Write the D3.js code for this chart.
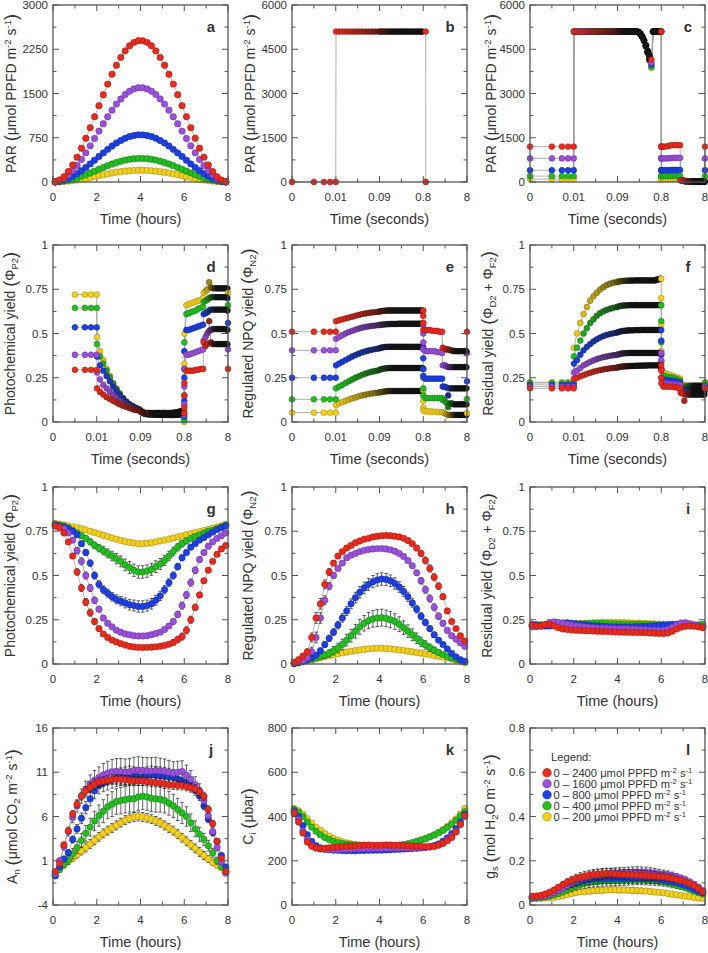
<!DOCTYPE html>
<html><head><meta charset="utf-8">
<script src="https://cdn.jsdelivr.net/npm/d3@7"></script>
<style>body{margin:0;background:#fff}svg{display:block}text{font-family:"Liberation Sans",Arial,Helvetica,sans-serif;fill:#333}</style>
</head><body><svg id="c" width="708" height="953"></svg>
<script>
// ---------------- DATA ----------------
const hours=[0.1,0.3,0.5,0.7,0.9,1.1,1.3,1.5,1.7,1.9,2.1,2.3,2.5,2.7,2.9,3.1,3.3,3.5,3.7,3.9,4.1,4.3,4.5,4.7,4.9,5.1,5.3,5.5,5.7,5.9,6.1,6.3,6.5,6.7,6.9,7.1,7.3,7.5,7.7,7.9];
const hourTicks=[0,2,4,6,8], hourMinor=[1,3,5,7];
const secTicks=[0,0.01,0.09,0.8,8], secLabels=["0","0.01","0.09","0.8","8"];
const legendLevels=["2400","1600","800","400","200"];

// panel a: PAR (hours)
const parRed=[4,33,91,177,288,421,573,741,920,1106,1294,1480,1659,1827,1979,2112,2223,2309,2367,2396,2396,2367,2309,2223,2112,1979,1827,1659,1480,1294,1106,920,741,573,421,288,177,91,33,4];
const parPurple=[2,22,61,118,192,280,382,494,613,737,863,987,1106,1218,1320,1408,1482,1539,1578,1598,1598,1578,1539,1482,1408,1320,1218,1106,987,863,737,613,494,382,280,192,118,61,22,2];
const parBlue=[1,11,30,59,96,140,191,247,307,369,431,493,553,609,660,704,741,770,789,799,799,789,770,741,704,660,609,553,493,431,369,307,247,191,140,96,59,30,11,1];
const parGreen=[1,6,15,29,48,70,96,123,153,184,216,247,277,305,330,352,371,385,394,399,399,394,385,371,352,330,305,277,247,216,184,153,123,96,70,48,29,15,6,1];
const parYellow=[0,3,8,15,24,35,48,62,77,92,108,123,138,152,165,176,185,192,197,200,200,197,192,185,176,165,152,138,123,108,92,77,62,48,35,24,15,8,3,0];

// panel g: photochemical yield (hours)
const phiPRed=[0.78,0.77,0.74,0.69,0.61,0.52,0.43,0.35,0.29,0.24,0.2,0.17,0.15,0.135,0.125,0.115,0.107,0.1,0.096,0.094,0.093,0.094,0.095,0.097,0.1,0.105,0.112,0.122,0.138,0.155,0.19,0.25,0.32,0.39,0.47,0.53,0.58,0.62,0.65,0.67];
const phiPPurple=[0.78,0.775,0.765,0.74,0.7,0.64,0.58,0.5,0.43,0.36,0.31,0.26,0.23,0.21,0.19,0.18,0.17,0.165,0.16,0.158,0.158,0.16,0.165,0.172,0.18,0.195,0.215,0.24,0.28,0.33,0.39,0.46,0.53,0.59,0.63,0.665,0.69,0.71,0.725,0.74];
const phiPBlue=[0.785,0.78,0.775,0.765,0.75,0.73,0.68,0.63,0.57,0.5,0.45,0.42,0.4,0.38,0.365,0.355,0.345,0.335,0.33,0.325,0.325,0.33,0.34,0.36,0.385,0.42,0.46,0.5,0.55,0.6,0.63,0.66,0.68,0.7,0.715,0.73,0.745,0.76,0.77,0.78];
const phiPGreen=[0.79,0.785,0.78,0.77,0.755,0.74,0.725,0.71,0.69,0.67,0.655,0.64,0.625,0.61,0.595,0.58,0.56,0.545,0.53,0.52,0.52,0.525,0.535,0.55,0.565,0.585,0.61,0.635,0.66,0.68,0.695,0.71,0.72,0.73,0.74,0.75,0.755,0.765,0.775,0.785];
const phiPYellow=[0.795,0.79,0.785,0.78,0.775,0.77,0.765,0.758,0.75,0.742,0.735,0.727,0.72,0.712,0.705,0.698,0.692,0.687,0.683,0.68,0.68,0.682,0.685,0.69,0.695,0.7,0.706,0.712,0.718,0.724,0.73,0.736,0.742,0.748,0.754,0.76,0.767,0.774,0.781,0.79];
const errGGreen=[0.004,0.005,0.006,0.007,0.009,0.011,0.013,0.015,0.017,0.019,0.021,0.023,0.025,0.027,0.029,0.031,0.033,0.034,0.035,0.035,0.035,0.035,0.034,0.033,0.031,0.029,0.027,0.025,0.022,0.019,0.016,0.014,0.012,0.01,0.009,0.008,0.007,0.006,0.005,0.004];
const errGBlue=[0.004,0.005,0.006,0.008,0.01,0.012,0.014,0.016,0.018,0.02,0.021,0.022,0.023,0.024,0.025,0.026,0.028,0.03,0.031,0.032,0.032,0.031,0.03,0.028,0.026,0.024,0.022,0.02,0.018,0.016,0.014,0.012,0.01,0.009,0.008,0.007,0.006,0.005,0.005,0.004];
const errGLow=[0.004,0.006,0.008,0.01,0.014,0.018,0.02,0.02,0.02,0.018,0.015,0.012,0.01,0.008,0.007,0.007,0.006,0.006,0.006,0.006,0.006,0.006,0.006,0.007,0.008,0.01,0.012,0.015,0.018,0.02,0.02,0.02,0.018,0.015,0.012,0.01,0.008,0.007,0.006,0.005];

// panel h: regulated NPQ yield (hours)
const phiNRed=[0.01,0.025,0.045,0.07,0.15,0.26,0.34,0.45,0.52,0.57,0.61,0.635,0.655,0.67,0.685,0.695,0.705,0.71,0.718,0.722,0.725,0.726,0.725,0.722,0.718,0.71,0.698,0.68,0.655,0.625,0.585,0.54,0.49,0.44,0.38,0.3,0.24,0.2,0.16,0.13];
const phiNPurple=[0.005,0.012,0.02,0.035,0.07,0.15,0.26,0.36,0.44,0.5,0.54,0.57,0.6,0.615,0.625,0.635,0.642,0.647,0.65,0.652,0.652,0.65,0.645,0.637,0.625,0.608,0.585,0.555,0.515,0.47,0.42,0.37,0.32,0.27,0.23,0.19,0.16,0.14,0.12,0.1];
const phiNBlue=[0.003,0.008,0.015,0.025,0.035,0.05,0.075,0.11,0.145,0.18,0.22,0.26,0.3,0.34,0.375,0.405,0.43,0.45,0.465,0.475,0.48,0.478,0.47,0.455,0.435,0.41,0.38,0.345,0.31,0.27,0.235,0.2,0.165,0.135,0.11,0.085,0.06,0.04,0.025,0.015];
const phiNGreen=[0.003,0.008,0.014,0.02,0.027,0.034,0.042,0.05,0.06,0.075,0.09,0.11,0.135,0.16,0.185,0.21,0.23,0.245,0.255,0.26,0.262,0.258,0.25,0.24,0.225,0.205,0.185,0.165,0.145,0.125,0.108,0.092,0.078,0.065,0.053,0.043,0.034,0.026,0.018,0.01];
const phiNYellow=[0.002,0.006,0.012,0.018,0.024,0.03,0.036,0.042,0.048,0.053,0.058,0.063,0.068,0.072,0.076,0.08,0.083,0.086,0.088,0.089,0.089,0.088,0.086,0.083,0.08,0.077,0.073,0.069,0.065,0.061,0.057,0.053,0.048,0.044,0.039,0.034,0.028,0.022,0.015,0.008];
const errHHi=[0.003,0.005,0.007,0.009,0.011,0.013,0.015,0.018,0.021,0.024,0.027,0.03,0.033,0.036,0.039,0.042,0.044,0.046,0.047,0.048,0.048,0.047,0.046,0.044,0.042,0.039,0.036,0.033,0.03,0.027,0.024,0.021,0.018,0.015,0.012,0.01,0.008,0.006,0.005,0.004];
const errHMid=[0.003,0.004,0.006,0.008,0.01,0.012,0.014,0.016,0.018,0.02,0.022,0.024,0.026,0.028,0.03,0.032,0.033,0.034,0.035,0.035,0.035,0.034,0.033,0.032,0.03,0.028,0.026,0.024,0.022,0.02,0.018,0.016,0.014,0.012,0.01,0.008,0.007,0.006,0.005,0.004];
const errHLow=[0.003,0.005,0.01,0.015,0.025,0.03,0.03,0.025,0.02,0.015,0.012,0.01,0.01,0.009,0.008,0.008,0.008,0.008,0.008,0.008,0.008,0.008,0.008,0.008,0.008,0.009,0.01,0.012,0.015,0.018,0.02,0.02,0.02,0.018,0.016,0.014,0.012,0.01,0.008,0.006];

// panel i: residual yield (hours)
const phiRRed=[0.22,0.215,0.215,0.222,0.225,0.215,0.205,0.198,0.195,0.192,0.19,0.189,0.188,0.187,0.186,0.185,0.184,0.183,0.182,0.181,0.18,0.18,0.179,0.178,0.178,0.177,0.176,0.175,0.174,0.173,0.172,0.175,0.185,0.198,0.208,0.213,0.215,0.214,0.21,0.205];
const phiRPurple=[0.21,0.212,0.215,0.222,0.235,0.238,0.235,0.23,0.225,0.22,0.216,0.213,0.21,0.208,0.206,0.204,0.203,0.202,0.201,0.2,0.2,0.199,0.198,0.197,0.196,0.195,0.194,0.193,0.192,0.191,0.192,0.197,0.208,0.222,0.232,0.234,0.228,0.222,0.216,0.21];
const phiRBlue=[0.22,0.218,0.216,0.215,0.215,0.218,0.225,0.232,0.233,0.231,0.228,0.225,0.222,0.219,0.217,0.215,0.213,0.212,0.211,0.21,0.21,0.21,0.21,0.21,0.211,0.212,0.213,0.214,0.216,0.218,0.22,0.222,0.224,0.225,0.223,0.22,0.218,0.215,0.213,0.21];
const phiRGreen=[0.225,0.224,0.222,0.22,0.22,0.221,0.222,0.223,0.224,0.225,0.226,0.227,0.228,0.229,0.23,0.23,0.23,0.229,0.228,0.227,0.226,0.226,0.225,0.225,0.225,0.225,0.224,0.223,0.222,0.221,0.22,0.219,0.218,0.217,0.216,0.216,0.217,0.219,0.222,0.225];
const phiRYellow=[0.21,0.212,0.214,0.216,0.218,0.22,0.221,0.222,0.223,0.224,0.225,0.227,0.229,0.231,0.233,0.234,0.235,0.235,0.235,0.235,0.235,0.234,0.233,0.232,0.231,0.23,0.229,0.228,0.227,0.226,0.225,0.224,0.223,0.222,0.221,0.22,0.219,0.218,0.216,0.215];

// panel j: net assimilation (hours)
const anRed=[-0.2,0.7,2.8,4.4,6.3,7.4,8.3,8.9,9.3,9.7,9.9,10.0,10.1,10.2,10.2,10.2,10.15,10.1,10.05,10.0,10.0,9.95,9.9,9.85,9.8,9.7,9.6,9.55,9.5,9.5,9.4,9.25,9.1,8.8,8.3,6.8,5.2,3.2,1.3,-0.2];
const anPurple=[-0.5,1.0,2.6,4.3,5.9,7.2,8.3,9.1,9.7,10.1,10.4,10.7,10.9,11.05,11.1,11.05,11.0,11.05,11.2,11.25,11.2,11.15,11.15,11.2,11.15,11.1,11.0,10.9,11.0,11.1,10.7,10.2,9.6,8.9,7.8,6.1,4.3,2.5,0.9,-0.4];
const anBlue=[-0.7,0.3,1.2,1.9,3.4,4.6,5.8,7.0,8.0,8.9,9.5,9.8,10.0,10.2,10.4,10.5,10.6,10.7,10.6,10.5,10.5,10.6,10.7,10.65,10.6,10.55,10.5,10.4,10.25,10.05,9.85,9.6,9.0,8.3,7.2,5.7,4.2,3.2,1.6,0.3];
const anGreen=[-0.7,0.0,0.6,1.1,1.8,2.5,3.3,4.1,4.8,5.5,6.1,6.6,7.1,7.4,7.7,7.8,7.9,8.0,8.0,8.2,8.3,8.2,8.05,8.0,7.95,7.8,7.5,7.2,6.8,6.4,6.0,5.3,4.6,4.0,3.4,2.7,1.9,1.0,0.3,-0.3];
const anYellow=[-0.3,0.1,0.5,0.9,1.3,1.7,2.1,2.5,2.9,3.3,3.7,4.1,4.4,4.7,5.0,5.3,5.6,5.8,5.95,6.0,5.95,5.85,5.7,5.5,5.3,5.0,4.7,4.4,4.0,3.6,3.2,2.8,2.4,2.0,1.6,1.2,0.8,0.5,0.2,-0.1];
const errJHi=[0.2,0.3,0.4,0.5,0.6,0.7,0.8,0.9,1.0,1.1,1.2,1.3,1.35,1.4,1.45,1.5,1.5,1.5,1.5,1.5,1.5,1.5,1.5,1.5,1.45,1.4,1.35,1.3,1.25,1.2,1.1,1.0,0.9,0.8,0.7,0.6,0.5,0.4,0.3,0.2];
const errJMid=[0.2,0.25,0.3,0.35,0.4,0.5,0.6,0.7,0.8,0.9,0.95,1.0,1.0,1.0,1.0,1.0,1.0,1.0,1.0,1.0,1.0,1.0,1.0,1.0,1.0,1.0,0.95,0.9,0.85,0.8,0.75,0.7,0.6,0.5,0.45,0.4,0.35,0.3,0.25,0.2];
const errJLow=[0.15,0.2,0.25,0.3,0.35,0.4,0.45,0.5,0.5,0.5,0.5,0.5,0.5,0.5,0.5,0.5,0.5,0.5,0.5,0.5,0.5,0.5,0.5,0.5,0.5,0.5,0.5,0.5,0.5,0.5,0.5,0.5,0.5,0.5,0.45,0.4,0.35,0.3,0.25,0.2];

// panel k: Ci (hours)
const ciRed=[415,375,325,285,265,258,256,257,259,261,263,265,266,267,268,269,270,271,270,270,270,271,271,270,270,269,268,267,266,265,264,264,265,270,278,290,305,330,365,405];
const ciPurple=[420,385,335,295,270,258,253,251,250,250,251,252,252,253,254,254,255,255,255,256,256,256,257,257,258,258,258,259,259,260,261,263,266,272,282,295,312,335,365,400];
const ciBlue=[425,400,360,318,288,268,258,253,250,248,247,246,245,245,245,246,246,247,247,248,248,249,250,251,252,253,254,255,256,258,260,263,268,276,288,303,322,345,375,410];
const ciGreen=[432,420,400,375,352,333,318,305,296,288,282,278,275,272,270,268,267,266,265,265,265,266,267,268,270,273,277,282,288,294,300,308,316,326,337,350,365,383,403,422];
const ciYellow=[436,426,410,390,370,352,337,323,311,301,293,286,281,277,274,271,269,267,265,264,264,264,265,266,268,271,275,280,286,293,300,309,318,329,341,355,371,389,410,436];

// panel l: gs (hours)
const gsRed=[0.04,0.041,0.044,0.05,0.058,0.068,0.08,0.092,0.103,0.112,0.12,0.126,0.131,0.135,0.138,0.14,0.142,0.143,0.142,0.14,0.139,0.138,0.137,0.136,0.135,0.134,0.133,0.132,0.131,0.129,0.127,0.124,0.12,0.116,0.111,0.105,0.097,0.088,0.075,0.06];
const gsPurple=[0.035,0.036,0.038,0.042,0.047,0.055,0.065,0.076,0.088,0.099,0.108,0.116,0.122,0.128,0.133,0.136,0.139,0.142,0.144,0.145,0.146,0.147,0.148,0.149,0.15,0.15,0.149,0.147,0.145,0.142,0.14,0.137,0.133,0.128,0.122,0.115,0.105,0.094,0.08,0.065];
const gsBlue=[0.035,0.036,0.038,0.042,0.048,0.056,0.067,0.079,0.088,0.096,0.102,0.107,0.111,0.114,0.116,0.118,0.119,0.12,0.12,0.12,0.12,0.12,0.12,0.12,0.12,0.12,0.119,0.118,0.117,0.115,0.113,0.11,0.106,0.101,0.095,0.088,0.08,0.071,0.062,0.055];
const gsGreen=[0.03,0.031,0.033,0.036,0.04,0.045,0.052,0.06,0.069,0.078,0.086,0.092,0.097,0.101,0.104,0.106,0.108,0.109,0.11,0.11,0.111,0.112,0.113,0.114,0.115,0.114,0.113,0.111,0.109,0.106,0.103,0.099,0.094,0.089,0.083,0.077,0.07,0.063,0.056,0.05];
const gsYellow=[0.03,0.03,0.031,0.032,0.033,0.035,0.038,0.042,0.047,0.052,0.056,0.059,0.061,0.063,0.065,0.066,0.067,0.068,0.069,0.069,0.068,0.068,0.067,0.066,0.065,0.064,0.063,0.061,0.059,0.057,0.055,0.052,0.049,0.046,0.043,0.04,0.037,0.034,0.032,0.03];
const errL=[0.005,0.005,0.006,0.007,0.008,0.01,0.012,0.014,0.016,0.018,0.019,0.02,0.021,0.022,0.022,0.023,0.023,0.023,0.023,0.023,0.023,0.023,0.023,0.023,0.023,0.022,0.022,0.021,0.02,0.019,0.018,0.017,0.016,0.014,0.012,0.01,0.009,0.008,0.007,0.006];
const errLLow=[0.004,0.004,0.004,0.005,0.005,0.006,0.007,0.008,0.009,0.01,0.01,0.011,0.011,0.012,0.012,0.012,0.012,0.012,0.012,0.012,0.012,0.012,0.012,0.012,0.012,0.012,0.011,0.011,0.011,0.01,0.01,0.009,0.009,0.008,0.007,0.006,0.006,0.005,0.005,0.004];

// seconds-scale time points
const tPre=[0,0.005,0.0073,0.0087,0.01];
const tPreD=[0.005,0.0073,0.0087,0.01];
const tFlash=[0.0105,0.016,0.022,0.028,0.034,0.04,0.046,0.052,0.058,0.064,0.07,0.076,0.082,0.088,0.1,0.13,0.16,0.19,0.22,0.25,0.28,0.31,0.34,0.37,0.4,0.43,0.46,0.49,0.52,0.55,0.58,0.61,0.64,0.67,0.7,0.73,0.76,0.785];
const tPostA=[0.8,0.805,0.81,0.82,1.15,1.5,1.9,2.3,2.7,3.1,3.5,3.9];
const tPostB=[4.0,4.3,4.6,4.9,5.2,5.5,5.8,6.1,6.4,6.7,7.0,7.3,7.6,7.9];
const tEnd=[8];
const tTailB=[1.2,1.21];

// panel b
const bPre=[0,0,0,0,0];
const bFlash=[5100,5100,5100,5100,5100,5100,5100,5100,5100,5100,5100,5100,5100,5100,5100,5100,5100,5100,5100,5100,5100,5100,5100,5100,5100,5100,5100,5100,5100,5100,5100,5100,5100,5100,5100,5100,5100,5100];
const bTail=[5100,0];

// panel c
const cPreRed=[1200,1200,1200,1200,1200], cPrePurple=[800,800,800,800,800], cPreBlue=[400,400,400,400,400], cPreGreen=[200,200,200,200,200], cPreYellow=[100,100,100,100,100];
const cFlashRed=[5100,5100,5100,5100,5100,5100,5100,5100,5100,5100,5100,5100,5100,5100,5100,5100,5100,5100,5100,5100,5100,5100,5100,5100,5100,5080,5020,4930,4800,4640,4450,4300,4150,5100,5100,5100,5100,5100];
const cFlashPurple=[5100,5100,5100,5100,5100,5100,5100,5100,5100,5100,5100,5100,5100,5100,5100,5100,5100,5100,5100,5100,5100,5100,5100,5100,5100,5080,5020,4930,4800,4630,4430,4250,4050,5100,5100,5100,5100,5100];
const cFlashBlue=[5100,5100,5100,5100,5100,5100,5100,5100,5100,5100,5100,5100,5100,5100,5100,5100,5100,5100,5100,5100,5100,5100,5100,5100,5100,5080,5020,4930,4800,4620,4410,4200,3980,5100,5100,5100,5100,5100];
const cFlashGreen=[5100,5100,5100,5100,5100,5100,5100,5100,5100,5100,5100,5100,5100,5100,5100,5100,5100,5100,5100,5100,5100,5100,5100,5100,5100,5080,5020,4930,4800,4610,4390,4150,3900,5100,5100,5100,5100,5100];
const cFlashYellow=[5100,5100,5100,5100,5100,5100,5100,5100,5100,5100,5100,5100,5100,5100,5100,5100,5100,5100,5100,5100,5100,5100,5100,5100,5100,5080,5020,4930,4800,4600,4380,4130,3870,5100,5100,5100,5100,5100];
const cPostARed=[5100,1200,1200,1200,1200,1200,1220,1240,1250,1250,1250,1250];
const cPostAPurple=[5100,800,800,800,800,800,800,810,820,820,820,820];
const cPostABlue=[5100,400,400,400,400,400,400,405,410,410,410,410];
const cPostAGreen=[5100,200,200,200,200,200,200,205,210,210,210,210];
const cPostAYellow=[5100,100,100,100,100,100,100,100,105,105,105,105];
const cPostB=[60,45,35,25,20,15,12,10,10,10,10,10,10,10];
const cEndRed=[1200], cEndPurple=[800], cEndBlue=[400], cEndGreen=[200], cEndYellow=[100];

// panel d: photochemical yield (seconds)
const dPreRed=[0.295,0.295,0.295,0.295], dPrePurple=[0.38,0.38,0.38,0.38], dPreBlue=[0.535,0.535,0.535,0.535], dPreGreen=[0.645,0.645,0.645,0.645], dPreYellow=[0.72,0.72,0.72,0.72];
const dFlashYellow=[0.48,0.40,0.35,0.30,0.26,0.22,0.19,0.16,0.135,0.115,0.1,0.088,0.078,0.07,0.06,0.05,0.046,0.044,0.043,0.042,0.042,0.041,0.041,0.041,0.04,0.04,0.04,0.04,0.04,0.04,0.04,0.04,0.04,0.04,0.041,0.042,0.043,0.045];
const dFlashGreen=[0.44,0.37,0.33,0.29,0.25,0.215,0.185,0.16,0.135,0.115,0.1,0.088,0.078,0.07,0.06,0.052,0.048,0.046,0.045,0.045,0.045,0.045,0.045,0.045,0.045,0.045,0.045,0.045,0.045,0.045,0.045,0.045,0.046,0.046,0.047,0.048,0.05,0.052];
const dFlashBlue=[0.37,0.32,0.29,0.26,0.23,0.2,0.175,0.15,0.13,0.112,0.098,0.087,0.078,0.07,0.062,0.054,0.05,0.048,0.047,0.047,0.047,0.047,0.047,0.047,0.047,0.047,0.047,0.047,0.047,0.048,0.048,0.048,0.049,0.05,0.051,0.052,0.054,0.056];
const dFlashPurple=[0.28,0.24,0.21,0.19,0.17,0.15,0.135,0.12,0.105,0.095,0.085,0.077,0.07,0.065,0.058,0.053,0.05,0.05,0.05,0.05,0.05,0.05,0.05,0.05,0.05,0.05,0.05,0.05,0.05,0.05,0.051,0.052,0.053,0.055,0.057,0.06,0.063,0.066];
const dFlashRed=[0.19,0.17,0.155,0.14,0.13,0.12,0.11,0.1,0.092,0.085,0.078,0.072,0.067,0.063,0.058,0.054,0.052,0.051,0.05,0.05,0.05,0.05,0.05,0.05,0.05,0.05,0.05,0.05,0.05,0.05,0.05,0.05,0.05,0.051,0.052,0.053,0.054,0.055];
const dPostAYellow=[0.0,0.1,0.33,0.5,0.66,0.665,0.67,0.675,0.68,0.685,0.69,0.7];
const dPostAGreen=[0.01,0.15,0.3,0.45,0.61,0.615,0.62,0.625,0.63,0.64,0.645,0.65];
const dPostABlue=[0.03,0.12,0.25,0.4,0.52,0.52,0.525,0.53,0.535,0.54,0.545,0.55];
const dPostAPurple=[0.04,0.1,0.2,0.3,0.38,0.38,0.385,0.39,0.395,0.4,0.405,0.41];
const dPostARed=[0.05,0.08,0.15,0.22,0.29,0.29,0.29,0.29,0.295,0.295,0.3,0.3];
const dPostBYellow=[0.73,0.74,0.75,0.79,0.76,0.755,0.755,0.755,0.755,0.755,0.755,0.755,0.755,0.755];
const dPostBGreen=[0.68,0.685,0.69,0.7,0.705,0.705,0.705,0.705,0.705,0.705,0.705,0.705,0.705,0.7];
const dPostBBlue=[0.61,0.615,0.62,0.63,0.635,0.635,0.635,0.635,0.635,0.635,0.635,0.635,0.635,0.63];
const dPostBPurple=[0.46,0.48,0.5,0.515,0.52,0.525,0.525,0.525,0.525,0.525,0.525,0.525,0.525,0.52];
const dPostBRed=[0.45,0.43,0.44,0.57,0.45,0.44,0.44,0.44,0.44,0.44,0.44,0.44,0.44,0.44];
const dEndRed=[0.3], dEndPurple=[0.41], dEndBlue=[0.56], dEndGreen=[0.66], dEndYellow=[0.73];

// panel e: regulated NPQ yield (seconds)
const ePreRed=[0.51,0.51,0.51,0.51,0.51], ePrePurple=[0.405,0.405,0.405,0.405,0.405], ePreBlue=[0.25,0.25,0.25,0.25,0.25], ePreGreen=[0.128,0.128,0.128,0.128,0.128], ePreYellow=[0.053,0.053,0.053,0.053,0.053];
const eFlashRed=[0.57,0.575,0.58,0.585,0.59,0.595,0.6,0.605,0.61,0.613,0.616,0.619,0.621,0.623,0.625,0.627,0.628,0.629,0.63,0.63,0.63,0.63,0.63,0.63,0.63,0.63,0.63,0.63,0.63,0.63,0.63,0.63,0.63,0.63,0.63,0.63,0.63,0.63];
const eFlashPurple=[0.47,0.48,0.49,0.5,0.508,0.515,0.522,0.528,0.533,0.537,0.54,0.543,0.545,0.547,0.549,0.55,0.551,0.552,0.553,0.553,0.554,0.554,0.554,0.554,0.555,0.555,0.555,0.555,0.555,0.555,0.555,0.555,0.555,0.555,0.555,0.555,0.555,0.555];
const eFlashBlue=[0.32,0.33,0.34,0.35,0.36,0.37,0.378,0.386,0.393,0.399,0.404,0.408,0.412,0.415,0.418,0.421,0.423,0.424,0.425,0.425,0.425,0.425,0.425,0.425,0.425,0.425,0.425,0.425,0.425,0.425,0.425,0.425,0.425,0.425,0.425,0.425,0.425,0.425];
const eFlashGreen=[0.19,0.2,0.21,0.22,0.23,0.24,0.25,0.258,0.266,0.273,0.279,0.284,0.288,0.292,0.296,0.3,0.302,0.303,0.304,0.305,0.305,0.305,0.305,0.305,0.305,0.305,0.305,0.305,0.305,0.305,0.305,0.305,0.305,0.305,0.305,0.305,0.305,0.305];
const eFlashYellow=[0.095,0.105,0.112,0.12,0.127,0.133,0.139,0.145,0.15,0.154,0.158,0.161,0.164,0.166,0.168,0.17,0.172,0.173,0.174,0.175,0.175,0.175,0.175,0.175,0.175,0.175,0.175,0.175,0.175,0.175,0.175,0.175,0.175,0.175,0.175,0.175,0.175,0.175];
const ePostARed=[0.63,0.6,0.56,0.52,0.52,0.52,0.52,0.515,0.515,0.515,0.51,0.51];
const ePostAPurple=[0.55,0.5,0.45,0.41,0.4,0.4,0.4,0.4,0.4,0.395,0.395,0.39];
const ePostABlue=[0.42,0.36,0.3,0.26,0.245,0.245,0.245,0.245,0.245,0.245,0.245,0.245];
const ePostAGreen=[0.3,0.25,0.19,0.15,0.135,0.135,0.135,0.135,0.135,0.135,0.135,0.135];
const ePostAYellow=[0.18,0.12,0.08,0.065,0.06,0.06,0.06,0.058,0.058,0.057,0.056,0.055];
const ePostBRed=[0.42,0.415,0.41,0.41,0.405,0.405,0.4,0.4,0.4,0.4,0.4,0.4,0.4,0.4];
const ePostBPurple=[0.32,0.32,0.315,0.31,0.31,0.31,0.31,0.31,0.31,0.31,0.31,0.31,0.31,0.31];
const ePostBBlue=[0.2,0.2,0.195,0.15,0.19,0.19,0.19,0.19,0.19,0.19,0.19,0.19,0.19,0.19];
const ePostBGreen=[0.125,0.12,0.11,0.085,0.105,0.105,0.1,0.1,0.1,0.1,0.1,0.1,0.1,0.1];
const ePostBYellow=[0.055,0.05,0.045,0.04,0.04,0.04,0.04,0.04,0.04,0.04,0.04,0.04,0.04,0.04];
const eEndRed=[0.51], eEndPurple=[0.39], eEndBlue=[0.23], eEndGreen=[0.13], eEndYellow=[0.05];

// panel f: residual yield (seconds)
const fPreRed=[0.19,0.19,0.19,0.19,0.19], fPrePurple=[0.2,0.2,0.2,0.2,0.2], fPreBlue=[0.21,0.21,0.21,0.21,0.21], fPreGreen=[0.22,0.22,0.22,0.22,0.22], fPreYellow=[0.225,0.225,0.225,0.225,0.225];
const fFlashYellow=[0.42,0.5,0.56,0.61,0.65,0.685,0.71,0.73,0.748,0.762,0.773,0.781,0.787,0.79,0.793,0.795,0.796,0.797,0.798,0.798,0.799,0.799,0.799,0.8,0.8,0.8,0.8,0.8,0.8,0.8,0.8,0.8,0.8,0.8,0.8,0.805,0.805,0.81];
const fFlashGreen=[0.37,0.42,0.46,0.5,0.53,0.56,0.58,0.6,0.615,0.625,0.633,0.64,0.645,0.649,0.652,0.655,0.657,0.658,0.659,0.659,0.66,0.66,0.66,0.66,0.66,0.66,0.66,0.66,0.66,0.66,0.66,0.66,0.66,0.66,0.66,0.66,0.66,0.66];
const fFlashBlue=[0.33,0.35,0.38,0.405,0.425,0.44,0.455,0.467,0.477,0.485,0.492,0.497,0.501,0.504,0.508,0.511,0.513,0.515,0.516,0.517,0.518,0.518,0.518,0.519,0.519,0.519,0.519,0.52,0.52,0.52,0.52,0.52,0.52,0.52,0.52,0.52,0.52,0.52];
const fFlashPurple=[0.28,0.29,0.305,0.32,0.33,0.34,0.348,0.355,0.361,0.366,0.37,0.374,0.377,0.379,0.382,0.385,0.387,0.388,0.389,0.389,0.39,0.39,0.39,0.39,0.39,0.39,0.39,0.39,0.39,0.39,0.39,0.39,0.39,0.39,0.39,0.39,0.39,0.39];
const fFlashRed=[0.245,0.25,0.258,0.265,0.272,0.278,0.284,0.289,0.293,0.297,0.3,0.303,0.305,0.307,0.309,0.311,0.313,0.314,0.315,0.315,0.316,0.316,0.317,0.317,0.318,0.318,0.318,0.319,0.319,0.319,0.32,0.32,0.32,0.32,0.32,0.32,0.32,0.32];
const fPostAYellow=[0.81,0.7,0.55,0.4,0.28,0.275,0.27,0.265,0.26,0.255,0.25,0.245];
const fPostAGreen=[0.66,0.57,0.45,0.34,0.26,0.258,0.255,0.252,0.25,0.245,0.24,0.235];
const fPostABlue=[0.52,0.46,0.38,0.3,0.24,0.238,0.236,0.234,0.232,0.23,0.228,0.225];
const fPostAPurple=[0.39,0.35,0.3,0.25,0.22,0.218,0.216,0.215,0.214,0.213,0.212,0.21];
const fPostARed=[0.32,0.29,0.25,0.22,0.2,0.2,0.2,0.2,0.198,0.196,0.195,0.19];
const fPostBYellow=[0.21,0.21,0.205,0.205,0.205,0.205,0.205,0.205,0.205,0.205,0.205,0.205,0.205,0.2];
const fPostBGreen=[0.2,0.195,0.195,0.195,0.195,0.195,0.195,0.195,0.195,0.195,0.195,0.195,0.195,0.195];
const fPostBBlue=[0.185,0.18,0.18,0.18,0.18,0.18,0.18,0.18,0.18,0.18,0.18,0.18,0.18,0.18];
const fPostBPurple=[0.175,0.17,0.17,0.17,0.17,0.17,0.17,0.17,0.17,0.17,0.17,0.17,0.17,0.17];
const fPostBRed=[0.165,0.16,0.12,0.155,0.155,0.155,0.155,0.155,0.155,0.155,0.155,0.155,0.155,0.155];
const fEndRed=[0.19], fEndPurple=[0.2], fEndBlue=[0.205], fEndGreen=[0.22], fEndYellow=[0.225];

// ---------------- STYLE / LAYOUT ----------------
const COL={red:"#ec2a1c",purple:"#9b4fdf",blue:"#1d3fe6",green:"#22bf1e",yellow:"#f6d01a"};
const colX=[53,292,530], rowY=[5,245,487,728], pw=175, ph=177;
const svg=d3.select("#c");

function rich(sel,parts,size,supK){
  const k=supK||0.38;
  let cur=0;
  parts.forEach(p=>{
    const target=p.sup?-k*size:p.sub?0.24*size:p.big?0.1*size:0;
    const ts=sel.append("tspan").text(p.t).attr("dy",(target-cur).toFixed(2));
    cur=target;
    if(p.sup||p.sub) ts.attr("font-size",(size*0.68).toFixed(1));
    else if(p.big) ts.attr("font-size",(size*1.3).toFixed(1));
  });
}
const parTitle=[{t:"PAR "},{t:"(",big:1},{t:"μmol PPFD m"},{t:"-2",sup:1},{t:" s"},{t:"-1",sup:1},{t:")",big:1}];
const phiPTitle=[{t:"Photochemical yield "},{t:"(",big:1},{t:"Φ"},{t:"P2",sub:1},{t:")",big:1}];
const phiNTitle=[{t:"Regulated NPQ yield "},{t:"(",big:1},{t:"Φ"},{t:"N2",sub:1},{t:")",big:1}];
const phiRTitle=[{t:"Residual yield "},{t:"(",big:1},{t:"Φ"},{t:"D2",sub:1},{t:" + Φ"},{t:"F2",sub:1},{t:")",big:1}];
const anTitle=[{t:"A"},{t:"n",sub:1},{t:" "},{t:"(",big:1},{t:"μmol CO"},{t:"2",sub:1},{t:" m"},{t:"-2",sup:1},{t:" s"},{t:"-1",sup:1},{t:")",big:1}];
const ciTitle=[{t:"C"},{t:"i",sub:1},{t:" "},{t:"(",big:1},{t:"μbar"},{t:")",big:1}];
const gsTitle=[{t:"g"},{t:"s",sub:1},{t:" "},{t:"(",big:1},{t:"mol H"},{t:"2",sub:1},{t:"O m"},{t:"-2",sup:1},{t:" s"},{t:"-1",sup:1},{t:")",big:1}];

function makePanel(col,row,cfg){
  const g=svg.append("g").attr("transform",`translate(${colX[col]},${rowY[row]})`);
  const x=cfg.secs?d3.scaleLinear().domain(secTicks).range(secTicks.map((d,i)=>i*pw/4))
                  :d3.scaleLinear().domain([0,8]).range([0,pw]);
  const y=d3.scaleLinear().domain(cfg.yDomain).range([ph,0]);
  let xMaj,xMin,xLab;
  if(cfg.secs){xMaj=secTicks.map(d=>x(d));xMin=[0,1,2,3].map(i=>(i+0.5)*pw/4);xLab=secLabels;}
  else{xMaj=hourTicks.map(d=>x(d));xMin=hourMinor.map(d=>x(d));xLab=hourTicks.map(String);}
  const tk=g.append("g").attr("stroke","#555").attr("stroke-width",1);
  const L=6,l=3.5;
  xMaj.forEach(px=>{tk.append("line").attr("x1",px).attr("x2",px).attr("y1",ph).attr("y2",ph-L);tk.append("line").attr("x1",px).attr("x2",px).attr("y1",0).attr("y2",L);});
  xMin.forEach(px=>{tk.append("line").attr("x1",px).attr("x2",px).attr("y1",ph).attr("y2",ph-l);tk.append("line").attr("x1",px).attr("x2",px).attr("y1",0).attr("y2",l);});
  cfg.yMajor.forEach(v=>{const py=y(v);tk.append("line").attr("x1",0).attr("x2",L).attr("y1",py).attr("y2",py);tk.append("line").attr("x1",pw).attr("x2",pw-L).attr("y1",py).attr("y2",py);});
  cfg.yMinor.forEach(v=>{const py=y(v);tk.append("line").attr("x1",0).attr("x2",l).attr("y1",py).attr("y2",py);tk.append("line").attr("x1",pw).attr("x2",pw-l).attr("y1",py).attr("y2",py);});
  xMaj.forEach((px,i)=>g.append("text").attr("x",px).attr("y",ph+19).attr("text-anchor","middle").attr("font-size",11.5).text(xLab[i]));
  cfg.yMajor.forEach(v=>g.append("text").attr("x",-5).attr("y",y(v)+4).attr("text-anchor","end").attr("font-size",11.5).text(String(v)));
  g.append("text").attr("x",pw/2).attr("y",ph+42).attr("text-anchor","middle").attr("font-size",14.5).text(cfg.secs?"Time (seconds)":"Time (hours)");
  const yt=g.append("text").attr("transform",`translate(${-cfg.yOff},${ph/2}) rotate(-90)`).attr("text-anchor","middle").attr("font-size",14);
  rich(yt,cfg.yTitle,14);
  const plot=g.append("g");
  g.append("rect").attr("width",pw).attr("height",ph).attr("fill","none").attr("stroke","#555").attr("stroke-width",1.3);
  g.append("text").attr("x",pw-17).attr("y",27).attr("text-anchor","middle").attr("font-size",15).attr("font-weight","bold").attr("fill","#111").text(cfg.letter);
  return {g,plot,x,y};
}

function dot(sel,cx,cy,r,c){
  sel.append("circle").attr("cx",cx).attr("cy",cy).attr("r",r).attr("fill",c).attr("stroke",d3.color(c).darker(1.3)).attr("stroke-width",0.55);
}

function drawHours(P,list){
  const order=list.slice().reverse();
  order.forEach(s=>{
    P.plot.append("path").attr("d",d3.line()(hours.map((t,i)=>[P.x(t),P.y(s.v[i])]))).attr("fill","none").attr("stroke","#9a9a9a").attr("stroke-width",0.7);
  });
  order.forEach(s=>{
    if(s.err){
      const eb=P.plot.append("g").attr("stroke","#222").attr("stroke-width",0.7);
      hours.forEach((t,i)=>{
        const px=P.x(t),y1=P.y(s.v[i]-s.err[i]),y2=P.y(s.v[i]+s.err[i]);
        eb.append("line").attr("x1",px).attr("x2",px).attr("y1",y1).attr("y2",y2);
        eb.append("line").attr("x1",px-1.8).attr("x2",px+1.8).attr("y1",y1).attr("y2",y1);
        eb.append("line").attr("x1",px-1.8).attr("x2",px+1.8).attr("y1",y2).attr("y2",y2);
      });
    }
    hours.forEach((t,i)=>dot(P.plot,P.x(t),P.y(s.v[i]),3.2,s.c));
  });
}

function drawSecs(P,list){
  const order=list.slice().reverse();
  order.forEach(s=>{
    const pts=[];s.segs.forEach(sg=>sg.t.forEach((t,i)=>pts.push([P.x(t),P.y(sg.v[i])])));
    P.plot.append("path").attr("d",d3.line()(pts)).attr("fill","none").attr("stroke","#9c9c9c").attr("stroke-width",0.8);
  });
  order.forEach(s=>{
    s.segs.forEach(sg=>{
      const n=sg.t.length;
      sg.t.forEach((t,i)=>{
        let c=s.c;
        if(sg.s===1) c=d3.interpolateRgb(s.c,"#151515")(Math.min(1,(n>1?i/(n-1):0)*1.7));
        if(sg.s===2) c="#151515";
        dot(P.plot,P.x(t),P.y(sg.v[i]),2.9,c);
      });
    });
  });
}
function std(tp,pre,flash,pa,pb,end){
  return [{t:tp,v:pre,s:0},{t:tFlash,v:flash,s:1},{t:tPostA,v:pa,s:0},{t:tPostB,v:pb,s:1},{t:tEnd,v:end,s:0}];
}
function cSegs(pre,flash,pa,end){
  return [{t:tPre,v:pre,s:0},{t:tFlash.slice(0,32),v:flash.slice(0,32),s:1},{t:tFlash.slice(32,33),v:flash.slice(32,33),s:0},
          {t:tFlash.slice(33),v:flash.slice(33),s:2},{t:tPostA,v:pa,s:0},{t:tPostB,v:cPostB,s:1},{t:tEnd,v:end,s:0}];
}

const yUnit={yDomain:[0,1],yMajor:[0,0.25,0.5,0.75,1],yMinor:[0.125,0.375,0.625,0.875]};
const yPar={yDomain:[0,6000],yMajor:[0,1500,3000,4500,6000],yMinor:[750,2250,3750,5250]};

// row 1
const Pa=makePanel(0,0,{yDomain:[0,3000],yMajor:[0,750,1500,2250,3000],yMinor:[375,1125,1875,2625],yTitle:parTitle,yOff:37,letter:"a"});
drawHours(Pa,[{c:COL.red,v:parRed},{c:COL.purple,v:parPurple},{c:COL.blue,v:parBlue},{c:COL.green,v:parGreen},{c:COL.yellow,v:parYellow}]);
const Pb=makePanel(1,0,Object.assign({secs:1,yTitle:parTitle,yOff:37,letter:"b"},yPar));
drawSecs(Pb,[{c:COL.red,segs:[{t:tPre,v:bPre,s:0},{t:tFlash,v:bFlash,s:1},{t:tTailB,v:bTail,s:0}]}]);
const Pc=makePanel(2,0,Object.assign({secs:1,yTitle:parTitle,yOff:34,letter:"c"},yPar));
drawSecs(Pc,[
  {c:COL.red,segs:cSegs(cPreRed,cFlashRed,cPostARed,cEndRed)},
  {c:COL.purple,segs:cSegs(cPrePurple,cFlashPurple,cPostAPurple,cEndPurple)},
  {c:COL.blue,segs:cSegs(cPreBlue,cFlashBlue,cPostABlue,cEndBlue)},
  {c:COL.green,segs:cSegs(cPreGreen,cFlashGreen,cPostAGreen,cEndGreen)},
  {c:COL.yellow,segs:cSegs(cPreYellow,cFlashYellow,cPostAYellow,cEndYellow)}]);

// row 2
const Pd=makePanel(0,1,Object.assign({secs:1,yTitle:phiPTitle,yOff:38,letter:"d"},yUnit));
drawSecs(Pd,[
  {c:COL.red,segs:std(tPreD,dPreRed,dFlashRed,dPostARed,dPostBRed,dEndRed)},
  {c:COL.purple,segs:std(tPreD,dPrePurple,dFlashPurple,dPostAPurple,dPostBPurple,dEndPurple)},
  {c:COL.blue,segs:std(tPreD,dPreBlue,dFlashBlue,dPostABlue,dPostBBlue,dEndBlue)},
  {c:COL.green,segs:std(tPreD,dPreGreen,dFlashGreen,dPostAGreen,dPostBGreen,dEndGreen)},
  {c:COL.yellow,segs:std(tPreD,dPreYellow,dFlashYellow,dPostAYellow,dPostBYellow,dEndYellow)}]);
const Pe=makePanel(1,1,Object.assign({secs:1,yTitle:phiNTitle,yOff:39,letter:"e"},yUnit));
drawSecs(Pe,[
  {c:COL.red,segs:std(tPre,ePreRed,eFlashRed,ePostARed,ePostBRed,eEndRed)},
  {c:COL.purple,segs:std(tPre,ePrePurple,eFlashPurple,ePostAPurple,ePostBPurple,eEndPurple)},
  {c:COL.blue,segs:std(tPre,ePreBlue,eFlashBlue,ePostABlue,ePostBBlue,eEndBlue)},
  {c:COL.green,segs:std(tPre,ePreGreen,eFlashGreen,ePostAGreen,ePostBGreen,eEndGreen)},
  {c:COL.yellow,segs:std(tPre,ePreYellow,eFlashYellow,ePostAYellow,ePostBYellow,eEndYellow)}]);
const Pf=makePanel(2,1,Object.assign({secs:1,yTitle:phiRTitle,yOff:37,letter:"f"},yUnit));
drawSecs(Pf,[
  {c:COL.red,segs:std(tPre,fPreRed,fFlashRed,fPostARed,fPostBRed,fEndRed)},
  {c:COL.purple,segs:std(tPre,fPrePurple,fFlashPurple,fPostAPurple,fPostBPurple,fEndPurple)},
  {c:COL.blue,segs:std(tPre,fPreBlue,fFlashBlue,fPostABlue,fPostBBlue,fEndBlue)},
  {c:COL.green,segs:std(tPre,fPreGreen,fFlashGreen,fPostAGreen,fPostBGreen,fEndGreen)},
  {c:COL.yellow,segs:std(tPre,fPreYellow,fFlashYellow,fPostAYellow,fPostBYellow,fEndYellow)}]);

// row 3
const Pg=makePanel(0,2,Object.assign({yTitle:phiPTitle,yOff:38,letter:"g"},yUnit));
drawHours(Pg,[{c:COL.red,v:phiPRed,err:errGLow},{c:COL.purple,v:phiPPurple,err:errGLow},{c:COL.blue,v:phiPBlue,err:errGBlue},{c:COL.green,v:phiPGreen,err:errGGreen},{c:COL.yellow,v:phiPYellow}]);
const Ph=makePanel(1,2,Object.assign({yTitle:phiNTitle,yOff:39,letter:"h"},yUnit));
drawHours(Ph,[{c:COL.red,v:phiNRed,err:errHLow},{c:COL.purple,v:phiNPurple,err:errHLow},{c:COL.blue,v:phiNBlue,err:errHMid},{c:COL.green,v:phiNGreen,err:errHHi},{c:COL.yellow,v:phiNYellow}]);
const Pi=makePanel(2,2,Object.assign({yTitle:phiRTitle,yOff:38,letter:"i"},yUnit));
drawHours(Pi,[{c:COL.red,v:phiRRed},{c:COL.purple,v:phiRPurple},{c:COL.blue,v:phiRBlue},{c:COL.green,v:phiRGreen},{c:COL.yellow,v:phiRYellow}]);

// row 4
const Pj=makePanel(0,3,{yDomain:[-4,16],yMajor:[-4,1,6,11,16],yMinor:[-1.5,3.5,8.5,13.5],yTitle:anTitle,yOff:36,letter:"j"});
drawHours(Pj,[{c:COL.red,v:anRed,err:errJLow},{c:COL.purple,v:anPurple,err:errJHi},{c:COL.blue,v:anBlue,err:errJMid},{c:COL.green,v:anGreen,err:errJHi},{c:COL.yellow,v:anYellow,err:errJLow}]);
const Pk=makePanel(1,3,{yDomain:[0,800],yMajor:[0,200,400,600,800],yMinor:[100,300,500,700],yTitle:ciTitle,yOff:39,letter:"k"});
drawHours(Pk,[{c:COL.red,v:ciRed},{c:COL.purple,v:ciPurple},{c:COL.blue,v:ciBlue},{c:COL.green,v:ciGreen},{c:COL.yellow,v:ciYellow}]);
const Pl=makePanel(2,3,{yDomain:[0,0.8],yMajor:[0,0.2,0.4,0.6,0.8],yMinor:[0.1,0.3,0.5,0.7],yTitle:gsTitle,yOff:35,letter:"l"});
drawHours(Pl,[{c:COL.red,v:gsRed,err:errL},{c:COL.purple,v:gsPurple,err:errL},{c:COL.blue,v:gsBlue,err:errL},{c:COL.green,v:gsGreen,err:errL},{c:COL.yellow,v:gsYellow,err:errLLow}]);

// legend
const lg=Pl.g.append("g");
lg.append("text").attr("x",21).attr("y",33).attr("font-size",11.2).text("Legend:");
[COL.red,COL.purple,COL.blue,COL.green,COL.yellow].forEach((c,i)=>{
  const cy=44.7+i*11;
  dot(lg,17,cy,4.3,c);
  const t=lg.append("text").attr("x",23.5).attr("y",cy+4).attr("font-size",11.2);
  rich(t,[{t:"0 – "+legendLevels[i]+" μmol PPFD m"},{t:"-2",sup:1},{t:" s"},{t:"-1",sup:1}],11.2,0.3);
});
</script></body></html>
